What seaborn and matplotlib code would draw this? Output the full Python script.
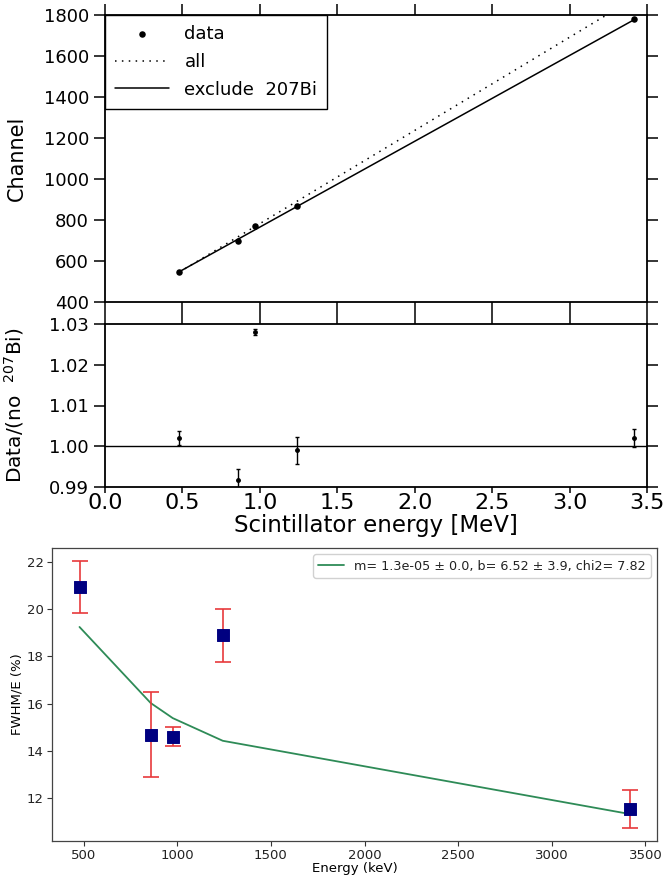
import numpy as np
import pandas as pd
import matplotlib
matplotlib.use("Agg")
import matplotlib.pyplot as plt
import seaborn as sns

# Calibration points: scintillator energy (MeV) vs. ADC channel
energy_mev = [0.478, 0.857, 0.966, 1.241, 3.415]
channel = [548, 700, 772, 866, 1780]

# Linear calibration fits, channel = slope * E + offset
fit_all_slope, fit_all_offset = 454.6, 327.7
fit_no_bi_slope, fit_no_bi_offset = 418.6, 346.8

# Data divided by the fit without 207Bi
ratio = [1.0021, 0.9916, 1.0281, 0.9990, 1.0020]
ratio_err = [0.0017, 0.0029, 0.0007, 0.0033, 0.0023]

# Energy resolution
energy_kev = [478, 858, 976, 1243, 3415]
fwhm_pct = [20.94, 14.68, 14.60, 18.89, 11.55]
fwhm_err = [1.09, 1.80, 0.40, 1.12, 0.80]
fwhm_fit = [19.25, 16.03, 15.39, 14.43, 11.33]
fit_label = "m= 1.3e-05 \u00b1 0.0, b= 6.52 \u00b1 3.9, chi2= 7.82"

channel_ticks = list(range(400, 1801, 200))
ratio_ticks = [0.99, 1.00, 1.01, 1.02, 1.03]
energy_ticks = [0.0, 0.5, 1.0, 1.5, 2.0, 2.5, 3.0, 3.5]

sns.set_style("ticks")
plt.rcParams["font.family"] = ["DejaVu Sans"]
plt.rcParams["text.color"] = "black"
plt.rcParams["axes.labelcolor"] = "black"

fig = plt.figure(figsize=(6.65, 8.75), dpi=100)
ax_top = fig.add_axes([105 / 665, 1 - 302 / 875, 542 / 665, 287 / 875])
ax_mid = fig.add_axes([105 / 665, 1 - 487 / 875, 542 / 665, 163 / 875])
ax_bot = fig.add_axes([52 / 665, 1 - 841 / 875, 605 / 665, 293 / 875])

calib = pd.DataFrame({"energy": energy_mev, "channel": channel})
e = np.array(energy_mev)
lines = pd.DataFrame({
    "energy": e,
    "all": fit_all_slope * e + fit_all_offset,
    "no_bi": fit_no_bi_slope * e + fit_no_bi_offset,
})

# --- calibration panel ---
sns.scatterplot(data=calib, x="energy", y="channel", ax=ax_top, color="black",
                s=22, edgecolor="black", linewidth=0, label="data", zorder=3)
sns.lineplot(data=lines, x="energy", y="all", ax=ax_top, color="black",
             linewidth=1.1, linestyle=(0, (1, 3.5)), label="all")
sns.lineplot(data=lines, x="energy", y="no_bi", ax=ax_top, color="black",
             linewidth=1.1, label="exclude  207Bi")
ax_top.set_xlim(0, 3.5)
ax_top.set_ylim(400, 1800)
ax_top.set_yticks(channel_ticks)
ax_top.set_xticks(energy_ticks)
ax_top.set_xticklabels([])
ax_top.set_xlabel("")
ax_top.set_ylabel("Channel", fontsize=15)
ax_top.tick_params(axis="y", labelsize=13, labelcolor="black")
leg = ax_top.legend(loc="upper left", borderaxespad=0, fancybox=False,
                    edgecolor="black", framealpha=1, fontsize=13,
                    handlelength=3.0, numpoints=1, borderpad=0.55,
                    labelspacing=0.55, handletextpad=0.85)
leg.get_frame().set_linewidth(1.0)
for t in leg.get_texts():
    t.set_color("black")

# --- ratio panel ---
ax_mid.errorbar(energy_mev, ratio, yerr=ratio_err, fmt="o", color="black",
                markersize=2.5, elinewidth=1.0, capsize=1.5, capthick=1.0)
ax_mid.axhline(1.0, color="black", linewidth=1.0)
ax_mid.set_xlim(0, 3.5)
ax_mid.set_ylim(0.99, 1.03)
ax_mid.set_yticks(ratio_ticks)
ax_mid.set_yticklabels([f"{t:.2f}" for t in ratio_ticks])
ax_mid.set_xticks(energy_ticks)
ax_mid.set_xticklabels([f"{t:.1f}" for t in energy_ticks])
ax_mid.set_xlabel("Scintillator energy [MeV]", fontsize=16.5, labelpad=1)
ax_mid.set_ylabel(r"Data/(no  $^{207}$Bi)", fontsize=14.5)

for ax in (ax_top, ax_mid):
    ax.tick_params(direction="out", top=True, right=True, length=8, width=1.1,
                   color="black", labelcolor="black")
    for s in ax.spines.values():
        s.set_linewidth(1.3)
        s.set_color("black")
    ax.yaxis.set_label_coords(-0.145, 0.5)

ax_mid.tick_params(axis="y", labelsize=13)
ax_mid.tick_params(axis="x", which="major", bottom=True, length=4,
                   labelsize=16, pad=0)
ax_mid.tick_params(axis="x", top=True)
for tl in ax_mid.xaxis.get_major_ticks():
    tl.tick2line.set_markersize(8)

# --- resolution panel ---
sns.lineplot(x=energy_kev, y=fwhm_fit, ax=ax_bot, color="seagreen",
             linewidth=1.3, label=fit_label)
ax_bot.errorbar(energy_kev, fwhm_pct, yerr=fwhm_err, fmt="none",
                ecolor="#e8383b", alpha=0.85, elinewidth=1.4, capsize=6,
                capthick=1.4)
sns.scatterplot(x=energy_kev, y=fwhm_pct, ax=ax_bot, marker="s", s=70,
                color="navy", edgecolor="navy", zorder=3)
ax_bot.margins(x=0.05, y=0.05)
ax_bot.set_xticks([500, 1000, 1500, 2000, 2500, 3000, 3500])
ax_bot.set_yticks([12, 14, 16, 18, 20, 22])
ax_bot.tick_params(labelsize=9.5, direction="out", length=3.5, width=0.8,
                   color="#333333", labelcolor="#222222", pad=2.5)
for s in ax_bot.spines.values():
    s.set_linewidth(0.9)
    s.set_color("#444444")
ax_bot.set_xlabel("Energy (keV)", fontsize=9.5, labelpad=0)
ax_bot.set_ylabel("FWHM/E (%)", fontsize=9.5, labelpad=2)
bleg = ax_bot.legend(loc="upper right", fontsize=9.2, handlelength=2.0,
                     framealpha=0.9)
for t in bleg.get_texts():
    t.set_color("#222222")

fig.savefig("out.png", dpi=100)
